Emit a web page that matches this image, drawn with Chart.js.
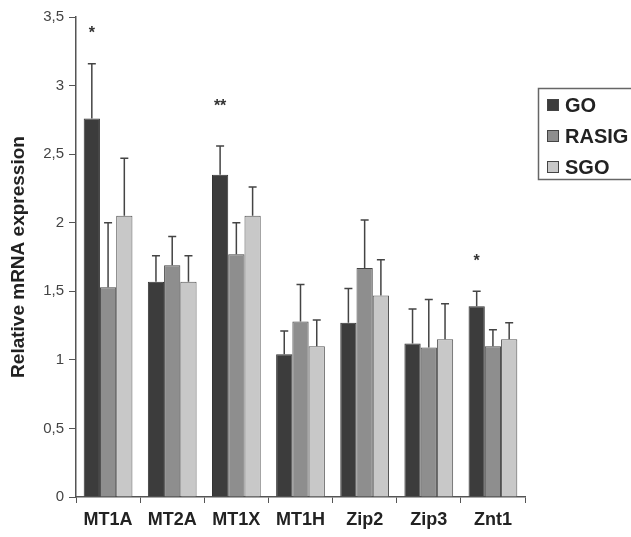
<!DOCTYPE html>
<html>
<head>
<meta charset="utf-8">
<script src="https://cdn.jsdelivr.net/npm/chart.js@4.4.1/dist/chart.umd.min.js"></script>
<style>
  html, body { margin: 0; padding: 0; background: #ffffff; }
  #wrap { width: 631px; height: 537px; position: relative; }
</style>
</head>
<body>
<div id="wrap"><canvas id="c" width="631" height="537"></canvas></div>
<script>
// ---- data ----
const categories = ['MT1A', 'MT2A', 'MT1X', 'MT1H', 'Zip2', 'Zip3', 'Znt1'];
const seriesNames = ['GO', 'RASIG', 'SGO'];
const goValues    = [2.76, 1.57, 2.35, 1.04, 1.27, 1.12, 1.39];
const rasigValues = [1.53, 1.69, 1.77, 1.28, 1.67, 1.09, 1.10];
const sgoValues   = [2.05, 1.57, 2.05, 1.10, 1.47, 1.15, 1.15];
// upper end of the error bars
const goErrTop    = [3.16, 1.76, 2.56, 1.21, 1.52, 1.37, 1.50];
const rasigErrTop = [2.00, 1.90, 2.00, 1.55, 2.02, 1.44, 1.22];
const sgoErrTop   = [2.47, 1.76, 2.26, 1.29, 1.73, 1.41, 1.27];
// significance marks above GO bars and the level they sit at
const sigMarks    = ['*', '', '**', '', '', '', '*'];
const sigLevels   = [3.40, null, 2.87, null, null, null, 1.74];
const yTicks      = [0, 0.5, 1, 1.5, 2, 2.5, 3, 3.5];

const colors = ['#3c3c3c', '#8e8e8e', '#c8c8c8'];
const errTops = [goErrTop, rasigErrTop, sgoErrTop];

const errorBarPlugin = {
  id: 'errorBars',
  afterDatasetsDraw(chart) {
    const ctx = chart.ctx;
    const y = chart.scales.y;
    ctx.save();
    ctx.strokeStyle = '#444';
    ctx.lineWidth = 1.5;
    chart.data.datasets.forEach((ds, i) => {
      const meta = chart.getDatasetMeta(i);
      meta.data.forEach((bar, j) => {
        const top = y.getPixelForValue(errTops[i][j]);
        const base = y.getPixelForValue(ds.data[j]);
        ctx.beginPath();
        ctx.moveTo(bar.x, base);
        ctx.lineTo(bar.x, top);
        ctx.moveTo(bar.x - 4, top);
        ctx.lineTo(bar.x + 4, top);
        ctx.stroke();
      });
    });
    // significance asterisks
    ctx.fillStyle = '#333';
    ctx.font = 'bold 16px "Liberation Sans", Arial, sans-serif';
    ctx.textAlign = 'center';
    ctx.textBaseline = 'middle';
    const meta0 = chart.getDatasetMeta(0);
    sigMarks.forEach((m, j) => {
      if (!m) return;
      const bar = meta0.data[j];
      ctx.fillText(m, bar.x, y.getPixelForValue(sigLevels[j]) + 3);
    });
    ctx.restore();
  }
};

const legendBoxPlugin = {
  id: 'legendBox',
  afterDraw(chart) {
    const ctx = chart.ctx;
    ctx.save();
    ctx.strokeStyle = '#666';
    ctx.lineWidth = 1.5;
    ctx.strokeRect(538.5, 88.5, 100, 91);
    ctx.font = 'bold 20px "Liberation Sans", Arial, sans-serif';
    ctx.textBaseline = 'middle';
    ctx.textAlign = 'left';
    chart.data.datasets.forEach((ds, i) => {
      const cy = 105 + i * 31;
      ctx.fillStyle = ds.backgroundColor;
      ctx.fillRect(547, cy - 6, 12, 12);
      ctx.strokeStyle = '#444';
      ctx.lineWidth = 1;
      ctx.strokeRect(547.5, cy - 5.5, 11, 11);
      ctx.fillStyle = '#222';
      ctx.fillText(ds.label, 565, cy + 1);
    });
    ctx.restore();
  }
};

new Chart(document.getElementById('c'), {
  type: 'bar',
  data: {
    labels: categories,
    datasets: [
      { label: seriesNames[0], data: goValues,    backgroundColor: colors[0], borderColor: '#333', borderWidth: 1 },
      { label: seriesNames[1], data: rasigValues, backgroundColor: colors[1], borderColor: '#444', borderWidth: 1 },
      { label: seriesNames[2], data: sgoValues,   backgroundColor: colors[2], borderColor: '#555', borderWidth: 1 }
    ]
  },
  options: {
    responsive: false,
    animation: false,
    devicePixelRatio: 1,
    layout: { padding: { left: 0, right: 106, top: 17, bottom: 0 } },
    categoryPercentage: 0.76,
    barPercentage: 1.0,
    plugins: { legend: { display: false }, tooltip: { enabled: false } },
    scales: {
      x: {
        grid: { display: true, drawOnChartArea: false, drawTicks: true, tickLength: 6, color: '#555', offset: true },
        border: { display: true, color: '#555', width: 1.5 },
        ticks: { color: '#222', font: { family: '"Liberation Sans", Arial, sans-serif', size: 18, weight: 'bold' }, padding: 6 },
        afterFit(scale) { scale.height = 40; }
      },
      y: {
        min: 0, max: 3.5,
        afterBuildTicks(scale) { scale.ticks = yTicks.map(v => ({ value: v })); },
        grid: { display: true, drawOnChartArea: false, drawTicks: true, tickLength: 7, color: '#555' },
        border: { display: true, color: '#555', width: 1.5 },
        ticks: {
          color: '#444',
          font: { family: '"Liberation Sans", Arial, sans-serif', size: 15 },
          padding: 5,
          callback: (v) => String(v).replace('.', ',')
        },
        title: {
          display: true,
          text: 'Relative mRNA expression',
          color: '#222',
          font: { family: '"Liberation Sans", Arial, sans-serif', size: 19, weight: 'bold' },
          padding: { top: 7, bottom: 0 }
        },
        afterFit(scale) { scale.width = 76; }
      }
    }
  },
  plugins: [errorBarPlugin, legendBoxPlugin]
});
</script>
</body>
</html>
